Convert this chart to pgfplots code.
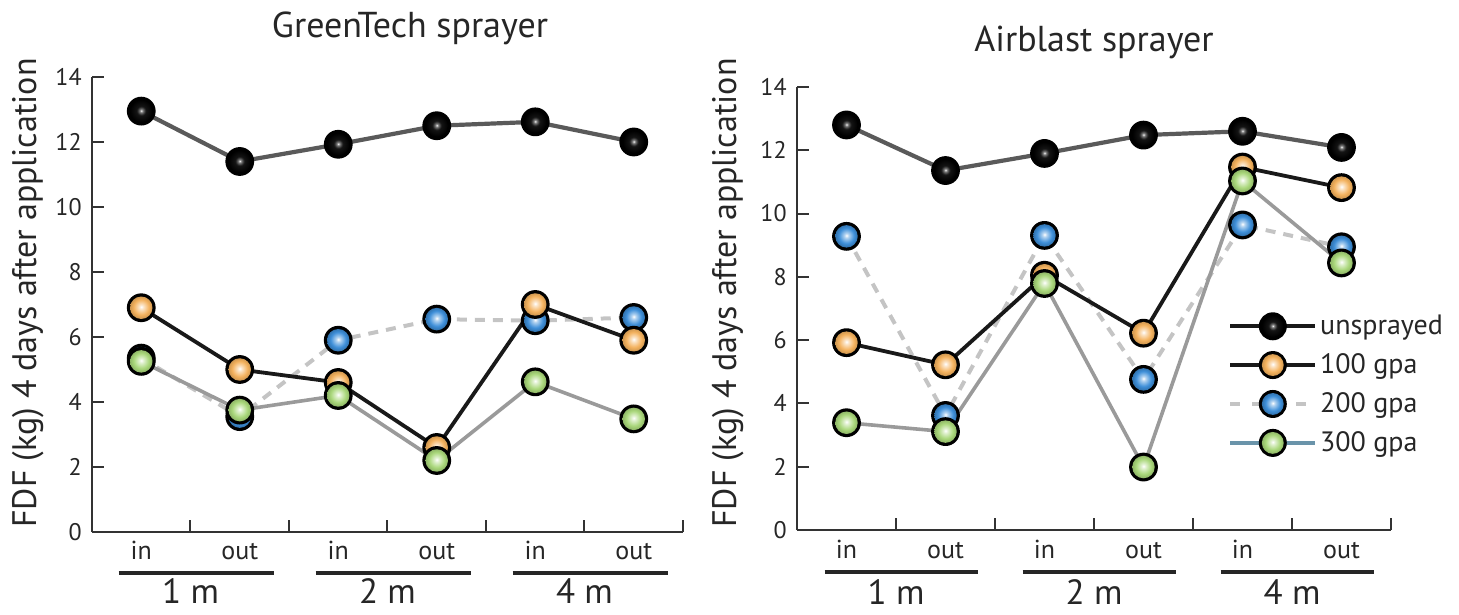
\documentclass[border=0pt]{standalone}
\usepackage{fontspec}
\setmainfont{PT Sans}
\usepackage{pgfplots}
\usepackage{pgfplotstable}
\pgfplotsset{compat=1.18}

\definecolor{oc}{HTML}{F4B25E}
\definecolor{bc}{HTML}{3E8FD9}
\definecolor{gc}{HTML}{A9D77A}
\definecolor{steel}{HTML}{6A94AA}
\definecolor{unline}{HTML}{5A5A5A}
\definecolor{g3line}{HTML}{9A9A9A}
\definecolor{g2line}{HTML}{C4C4C4}

\pgfdeclareradialshading{shK}{\pgfpoint{0bp}{1bp}}{color(0bp)=(white); color(3bp)=(black!50); color(10bp)=(black!92); color(25bp)=(black); color(50bp)=(black)}
\pgfdeclareradialshading{shO}{\pgfpoint{0bp}{2bp}}{color(0bp)=(white); color(5bp)=(oc!35!white); color(17bp)=(oc); color(25bp)=(oc!85!black); color(50bp)=(oc!85!black)}
\pgfdeclareradialshading{shB}{\pgfpoint{0bp}{2bp}}{color(0bp)=(white); color(5bp)=(bc!40!white); color(17bp)=(bc); color(25bp)=(bc!80!black); color(50bp)=(bc!80!black)}
\pgfdeclareradialshading{shG}{\pgfpoint{0bp}{2bp}}{color(0bp)=(white); color(5bp)=(gc!35!white); color(17bp)=(gc); color(25bp)=(gc!85!black); color(50bp)=(gc!85!black)}

\pgfdeclareplotmark{ballK}{\pgfpathcircle{\pgfpointorigin}{\pgfplotmarksize}\pgfsetfillcolor{black}\pgfusepathqfill
  \pgfpathcircle{\pgfpointorigin}{0.78\pgfplotmarksize}\pgfshadepath{shK}{0}\pgfusepath{}}
\pgfdeclareplotmark{ballO}{\pgfpathcircle{\pgfpointorigin}{\pgfplotmarksize}\pgfsetfillcolor{black}\pgfusepathqfill
  \pgfpathcircle{\pgfpointorigin}{0.78\pgfplotmarksize}\pgfshadepath{shO}{0}\pgfusepath{}}
\pgfdeclareplotmark{ballB}{\pgfpathcircle{\pgfpointorigin}{\pgfplotmarksize}\pgfsetfillcolor{black}\pgfusepathqfill
  \pgfpathcircle{\pgfpointorigin}{0.78\pgfplotmarksize}\pgfshadepath{shB}{0}\pgfusepath{}}
\pgfdeclareplotmark{ballG}{\pgfpathcircle{\pgfpointorigin}{\pgfplotmarksize}\pgfsetfillcolor{black}\pgfusepathqfill
  \pgfpathcircle{\pgfpointorigin}{0.78\pgfplotmarksize}\pgfshadepath{shG}{0}\pgfusepath{}}

\pgfplotstableread{
x un g100 g200 g300
0.5 12.95 6.90 5.35 5.25
1.5 11.40 5.00 3.55 3.75
2.5 11.93 4.60 5.90 4.20
3.5 12.50 2.60 6.55 2.20
4.5 12.62 7.00 6.50 4.62
5.5 12.00 5.90 6.60 3.48
}\gtdata

\pgfplotstableread{
x un g100 g200 g300
0.5 12.80 5.92 9.28 3.39
1.5 11.36 5.22 3.62 3.11
2.5 11.90 8.05 9.31 7.79
3.5 12.48 6.22 4.76 1.99
4.5 12.60 11.47 9.64 11.03
5.5 12.09 10.82 8.95 8.44
}\abdata

\tikzset{grp/.style={anchor=base, font=\fontsize{17.5bp}{20bp}\selectfont, text=black!85}}

\pgfplotsset{
  myaxis/.style={
    scale only axis,
    xmin=0, xmax=6, ymin=0, ymax=14,
    axis x line*=bottom, axis y line*=left,
    axis line style={line width=1bp, black!80},
    every tick/.style={line width=1bp, black!80},
    tick align=inside,
    major tick length=6bp,
    xtick={1,2,3,4,5,6}, xticklabels={,,,,,},
    extra x ticks={0.5,1.5,2.5,3.5,4.5,5.5},
    extra x tick labels={in,out,in,out,in,out},
    extra x tick style={major tick length=0pt},
    ytick={0,2,4,6,8,10,12,14},
    yticklabel style={font=\fontsize{12bp}{14bp}\selectfont, inner sep=0pt, xshift=-5bp, text=black!85},
    xticklabel style={font=\fontsize{13bp}{15bp}\selectfont, anchor=base, yshift=-14bp, text=black!85},
    /pgf/number format/assume math mode=true,
    clip=false,
  },
  unl/.style={forget plot, no marks, line width=2.1bp, unline},
  l100/.style={forget plot, no marks, line width=1.9bp, black!90},
  l200/.style={forget plot, no marks, line width=2bp, g2line, dash pattern=on 5bp off 4bp},
  l300/.style={forget plot, no marks, line width=1.8bp, g3line},
  mk/.style={forget plot, only marks, mark size=7.2bp, mark=#1},
}

\begin{document}
\begin{tikzpicture}
\useasboundingbox (0,0) rectangle (729.5bp,307.5bp);

\begin{axis}[myaxis, width=295.5bp, height=227.5bp, at={(46bp,41.5bp)}, anchor=south west]
\addplot[unl] table[x=x,y=un] {\gtdata};
\addplot[l200] table[x=x,y=g200] {\gtdata};
\addplot[l300] table[x=x,y=g300] {\gtdata};
\addplot[l100] table[x=x,y=g100] {\gtdata};
\addplot[mk=ballK] table[x=x,y=un] {\gtdata};
\addplot[mk=ballB] table[x=x,y=g200] {\gtdata};
\addplot[mk=ballO] table[x=x,y=g100] {\gtdata};
\addplot[mk=ballG] table[x=x,y=g300] {\gtdata};
\draw[line width=2.2bp, black!85] ([yshift=-20.5bp]axis cs:0.27,0) -- ([yshift=-20.5bp]axis cs:1.85,0);
\draw[line width=2.2bp, black!85] ([yshift=-20.5bp]axis cs:2.27,0) -- ([yshift=-20.5bp]axis cs:3.85,0);
\draw[line width=2.2bp, black!85] ([yshift=-20.5bp]axis cs:4.27,0) -- ([yshift=-20.5bp]axis cs:5.85,0);
\node[grp] at ([yshift=-36bp]axis cs:1,0) {1 m};
\node[grp] at ([yshift=-36bp]axis cs:3,0) {2 m};
\node[grp] at ([yshift=-36bp]axis cs:5,0) {4 m};
\end{axis}

\begin{axis}[myaxis, width=297bp, height=221.5bp, at={(398.5bp,42.5bp)}, anchor=south west,
  legend image code/.code={\draw[mark repeat=2, mark phase=2, #1] plot coordinates {(0bp,0bp) (21.25bp,0bp) (42.5bp,0bp)};},
  legend style={draw=none, fill=none, at={(0.7256,0.493)}, anchor=north west, inner sep=0pt,
    font=\fontsize{14bp}{16bp}\selectfont, row sep=5bp, nodes={inner sep=1.5bp, text=black!85}},
  legend cell align=left]
\addlegendimage{line width=1.8bp, black!90, mark=ballK, mark size=7bp}
\addlegendentry{unsprayed}
\addlegendimage{line width=1.8bp, black!90, mark=ballO, mark size=7bp}
\addlegendentry{100 gpa}
\addlegendimage{line width=1.9bp, g2line, dash pattern=on 5bp off 6bp, mark=ballB, mark size=7bp}
\addlegendentry{200 gpa}
\addlegendimage{line width=1.9bp, steel, mark=ballG, mark size=7bp}
\addlegendentry{300 gpa}
\addplot[unl] table[x=x,y=un] {\abdata};
\addplot[l200] table[x=x,y=g200] {\abdata};
\addplot[l300] table[x=x,y=g300] {\abdata};
\addplot[l100] table[x=x,y=g100] {\abdata};
\addplot[mk=ballK] table[x=x,y=un] {\abdata};
\addplot[mk=ballB] table[x=x,y=g200] {\abdata};
\addplot[mk=ballO] table[x=x,y=g100] {\abdata};
\addplot[mk=ballG] table[x=x,y=g300] {\abdata};
\draw[line width=2.2bp, black!85] ([yshift=-21bp]axis cs:0.28,0) -- ([yshift=-21bp]axis cs:1.83,0);
\draw[line width=2.2bp, black!85] ([yshift=-21bp]axis cs:2.28,0) -- ([yshift=-21bp]axis cs:3.83,0);
\draw[line width=2.2bp, black!85] ([yshift=-21bp]axis cs:4.28,0) -- ([yshift=-21bp]axis cs:5.83,0);
\node[grp] at ([yshift=-37bp]axis cs:1,0) {1 m};
\node[grp] at ([yshift=-37bp]axis cs:3,0) {2 m};
\node[grp] at ([yshift=-37bp]axis cs:5,0) {4 m};
\end{axis}

\node[anchor=base, font=\fontsize{18bp}{21bp}\selectfont, text=black!85] at (205bp,288.5bp) {GreenTech sprayer};
\node[anchor=base, font=\fontsize{18bp}{21bp}\selectfont, text=black!85] at (547bp,281.5bp) {Airblast sprayer};
\node[rotate=90, anchor=base, font=\fontsize{17bp}{20bp}\selectfont, text=black!85] at (18bp,161bp) {FDF (kg) 4 days after application};
\node[rotate=90, anchor=base, font=\fontsize{17bp}{20bp}\selectfont, text=black!85] at (368bp,161bp) {FDF (kg) 4 days after application};
\end{tikzpicture}
\end{document}
